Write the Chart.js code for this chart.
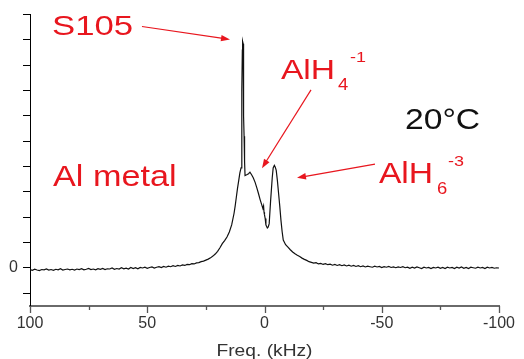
<!DOCTYPE html>
<html>
<head>
<meta charset="utf-8">
<script src="https://cdn.jsdelivr.net/npm/chart.js@4/dist/chart.umd.min.js"></script>
<style>
  html, body { margin: 0; padding: 0; background: #ffffff; }
  #wrap { width: 524px; height: 359px; }
</style>
</head>
<body>
<div id="wrap"><canvas id="c" width="524" height="359"></canvas></div>
<script>
// 27Al NMR spectrum at 20 °C, frequency offset in kHz
const freq = [
  100, 99, 98, 97, 96, 95, 94, 93, 92, 91, 90, 89, 88, 87, 86, 85, 84, 83, 82, 81,
  80, 79, 78, 77, 76, 75, 74, 73, 72, 71, 70, 69, 68, 67, 66, 65, 64, 63, 62, 61,
  60, 59, 58, 57, 56, 55, 54, 53, 52, 51, 50, 49, 48, 47, 46, 45, 44, 43, 42, 41,
  40, 39, 38, 37, 36, 35, 34, 33, 32, 31, 30, 29, 28, 27, 26, 25, 24, 23, 22, 21,
  20, 19, 18, 17, 16, 15, 14, 13, 12.5, 12, 11.5, 11, 10.5, 10,
  9.75, 9.6, 9.45, 9.35, 9.1, 9.0, 8.85, 8.7, 8.5, 8.3, 7.6, 6.8, 6.2, 5.5, 4.8, 4.0, 3.3,
  2.6, 1.9, 1.2, 0.7, 0.4, 0.2, 0.0, -0.3, -0.6, -1.2, -1.6, -2.0, -2.6, -3.3, -3.7,
  -4.2, -4.6, -5.0, -5.5, -6.0, -6.5, -7.0, -7.5, -8.0, -9, -10, -11, -12, -13, -14,
  -15, -16, -17, -18, -19, -20, -21, -22, -23, -24, -25, -26, -27, -28, -29, -30,
  -31, -32, -33, -34, -35, -36, -37, -38, -39, -40, -41, -42, -43, -44, -45, -46,
  -47, -48, -49, -50, -51, -52, -53, -54, -55, -56, -57, -58, -59, -60, -61, -62,
  -63, -64, -65, -66, -67, -68, -69, -70, -71, -72, -73, -74, -75, -76, -77, -78,
  -79, -80, -81, -82, -83, -84, -85, -86, -87, -88, -89, -90, -91, -92, -93, -94,
  -95, -96, -97, -98, -99, -100
];
const intensity = [
  -0.06, -0.09, -0.05, -0.08, -0.10, -0.06, -0.07, -0.04, -0.08, -0.06, -0.09, -0.05, -0.07, -0.03, -0.08, -0.06, -0.04, -0.07, -0.05, -0.08,
  -0.04, -0.06, -0.03, -0.07, -0.05, -0.02, -0.06, -0.04, -0.07, -0.03, -0.05, -0.02, -0.06, -0.03, -0.04, 0.00, -0.05, -0.02, -0.04, 0.01,
  -0.03, -0.01, -0.04, 0.02, -0.02, 0.01, -0.03, 0.02, 0.00, 0.03, -0.01, 0.02, 0.04, 0.00, 0.03, 0.05, 0.02, 0.06, 0.03, 0.07,
  0.05, 0.09, 0.06, 0.10, 0.08, 0.12, 0.10, 0.14, 0.13, 0.17, 0.16, 0.20, 0.21, 0.25, 0.27, 0.31, 0.35, 0.40, 0.47, 0.55,
  0.66, 0.80, 0.96, 1.08, 1.22, 1.42, 1.70, 2.15, 2.45, 2.80, 3.15, 3.45, 3.75, 3.95,
  4.9, 7.0, 8.6, 8.95, 8.85, 8.3, 6.0, 5.2, 4.2, 3.65, 3.68, 3.72, 3.78, 3.68, 3.56, 3.38, 3.17,
  2.95, 2.71, 2.50, 2.35, 2.45, 2.20, 2.10, 1.95, 1.70, 1.58, 1.62, 1.75, 2.65, 3.56, 3.95,
  4.05, 3.98, 3.85, 3.45, 2.95, 2.45, 1.90, 1.45, 1.10, 0.92, 0.82, 0.72, 0.63, 0.56, 0.50,
  0.45, 0.39, 0.34, 0.30, 0.25, 0.22, 0.19, 0.21, 0.16, 0.18, 0.14, 0.17, 0.13, 0.15, 0.11, 0.14,
  0.10, 0.13, 0.09, 0.12, 0.08, 0.11, 0.07, 0.10, 0.06, 0.09, 0.05, 0.08, 0.04, 0.07, 0.05, 0.03,
  0.07, 0.04, 0.06, 0.02, 0.05, 0.03, 0.06, 0.02, 0.04, 0.01, 0.04, 0.02, 0.05, 0.01, 0.03, -0.01,
  0.03, 0.00, 0.04, 0.01, -0.02, 0.03, 0.00, 0.02, -0.02, 0.02, 0.00, 0.03, -0.01, 0.02, -0.02, 0.03,
  0.00, 0.02, -0.02, 0.03, 0.00, 0.04, -0.01, 0.02, -0.02, 0.03, 0.01, -0.01, 0.03, 0.00, 0.02, -0.02,
  0.03, 0.00, 0.02, -0.01, 0.01, 0.00
];

// axis ticks
const xMajorTicks = [100, 50, 0, -50, -100];
const xMinorTicks = [75, 25, -25, -75];
const yTickValues = [-1, 0, 1, 2, 3, 4, 5, 6, 7, 8, 9, 10];
const yLabelValues = [0];

// peak labels (data coordinates: kHz, intensity)
const RED = '#e8161e';
const notes = [
  { text: 'S105',     x: 90.6,  y: 9.18, size: 28, sx: 1.24, color: RED },
  { text: 'AlH',      x: -7.0,  y: 7.46, size: 28, sx: 1.20, color: RED },
  { text: '4',        x: -31.3, y: 7.03, size: 16, sx: 1.15, color: RED },
  { text: '-1',       x: -36.5, y: 8.12, size: 15, sx: 1.20, color: RED },
  { text: '20°C',     x: -59.9, y: 5.50, size: 29, sx: 1.16, color: '#111111' },
  { text: 'AlH',      x: -48.8, y: 3.35, size: 29, sx: 1.16, color: RED },
  { text: '6',        x: -73.6, y: 2.92, size: 16, sx: 1.15, color: RED },
  { text: '-3',       x: -78.3, y: 4.02, size: 15, sx: 1.20, color: RED },
  { text: 'Al metal', x: 90.2,  y: 3.23, size: 29, sx: 1.18, color: RED }
];
const arrows = [
  { from: [52.24, 9.53],  to: [14.71, 9.02] },
  { from: [-19.83, 7.03], to: [1.07, 3.94] },
  { from: [-47.12, 4.10], to: [-13.86, 3.56] }
];

const FONT = '"Liberation Sans", Arial, Helvetica, sans-serif';
const points = freq.map((f, i) => ({ x: f, y: intensity[i] }));

const overlay = {
  id: 'overlay',
  afterDraw(chart) {
    const ctx = chart.ctx;
    const xs = chart.scales.x, ys = chart.scales.y;
    const base = chart.chartArea.bottom;

    // x tick marks, outward
    ctx.save();
    ctx.strokeStyle = '#555555';
    ctx.lineWidth = 1.3;
    const tick = (v, len) => {
      const px = Math.round(xs.getPixelForValue(v)) + 0.5;
      ctx.beginPath();
      ctx.moveTo(px, base);
      ctx.lineTo(px, base + len);
      ctx.stroke();
    };
    xMajorTicks.forEach(v => tick(v, 7));
    xMinorTicks.forEach(v => tick(v, 4));
    ctx.restore();

    // axis title
    ctx.save();
    ctx.fillStyle = '#333333';
    ctx.font = '16px ' + FONT;
    ctx.textAlign = 'center';
    ctx.textBaseline = 'alphabetic';
    ctx.translate((chart.chartArea.left + chart.chartArea.right) / 2, 356);
    ctx.scale(1.2, 1);
    ctx.fillText('Freq. (kHz)', 0, 0);
    ctx.restore();

    // arrows
    ctx.save();
    ctx.strokeStyle = RED;
    ctx.fillStyle = RED;
    ctx.lineWidth = 1.2;
    arrows.forEach(a => {
      const x0 = xs.getPixelForValue(a.from[0]), y0 = ys.getPixelForValue(a.from[1]);
      const x1 = xs.getPixelForValue(a.to[0]),   y1 = ys.getPixelForValue(a.to[1]);
      const ang = Math.atan2(y1 - y0, x1 - x0);
      const hl = 9, hw = 3.2;
      ctx.beginPath();
      ctx.moveTo(x0, y0);
      ctx.lineTo(x1 - Math.cos(ang) * hl * 0.8, y1 - Math.sin(ang) * hl * 0.8);
      ctx.stroke();
      ctx.beginPath();
      ctx.moveTo(x1, y1);
      ctx.lineTo(x1 - Math.cos(ang) * hl - Math.sin(ang) * hw, y1 - Math.sin(ang) * hl + Math.cos(ang) * hw);
      ctx.lineTo(x1 - Math.cos(ang) * hl + Math.sin(ang) * hw, y1 - Math.sin(ang) * hl - Math.cos(ang) * hw);
      ctx.closePath();
      ctx.fill();
    });
    ctx.restore();

    // labels
    notes.forEach(n => {
      ctx.save();
      ctx.fillStyle = n.color;
      ctx.font = n.size + 'px ' + FONT;
      ctx.textAlign = 'left';
      ctx.textBaseline = 'alphabetic';
      ctx.translate(xs.getPixelForValue(n.x), ys.getPixelForValue(n.y));
      ctx.scale(n.sx, 1);
      ctx.fillText(n.text, 0, 0);
      ctx.restore();
    });
  }
};

new Chart(document.getElementById('c'), {
  type: 'line',
  data: {
    datasets: [{
      data: points,
      borderColor: '#111111',
      borderWidth: 1.2,
      pointRadius: 0,
      tension: 0,
      fill: false
    }]
  },
  options: {
    responsive: false,
    animation: false,
    devicePixelRatio: 1,
    layout: { padding: { top: 12, right: 25, left: 0, bottom: 0 } },
    plugins: { legend: { display: false }, tooltip: { enabled: false } },
    scales: {
      x: {
        type: 'linear',
        reverse: true,
        min: -100,
        max: 100,
        afterBuildTicks: s => { s.ticks = xMajorTicks.map(v => ({ value: v })); },
        afterFit: s => { s.height = 53; },
        grid: { display: false, drawTicks: false },
        border: { display: true, color: '#6a6a6a', width: 2 },
        ticks: {
          padding: 8,
          maxRotation: 0,
          autoSkip: false,
          color: '#333333',
          font: { family: FONT, size: 16 },
          callback: v => String(v)
        }
      },
      y: {
        type: 'linear',
        min: -1.5,
        max: 10,
        afterBuildTicks: s => { s.ticks = yTickValues.map(v => ({ value: v })); },
        afterFit: s => { s.width = 30; },
        grid: {
          display: true,
          drawOnChartArea: false,
          drawTicks: true,
          tickLength: 7,
          color: '#000000',
          tickColor: '#000000',
          tickWidth: 1
        },
        border: { display: true, color: '#000000', width: 1 },
        ticks: {
          padding: 5,
          autoSkip: false,
          color: '#333333',
          font: { family: FONT, size: 16 },
          callback: v => (yLabelValues.includes(v) ? String(v) : '')
        }
      }
    }
  },
  plugins: [overlay]
});
</script>
</body>
</html>
